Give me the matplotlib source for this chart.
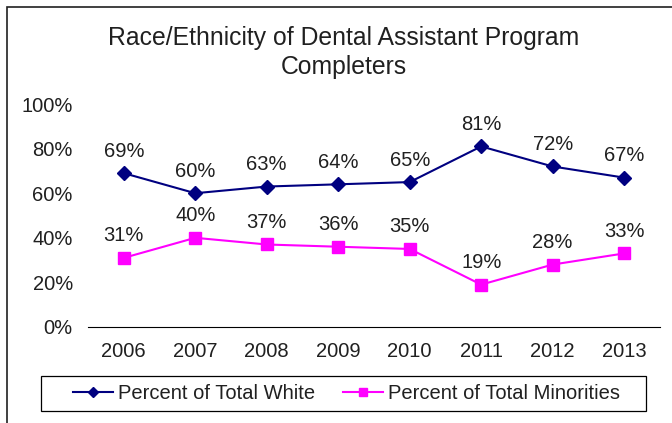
import matplotlib.pyplot as plt
from matplotlib.patches import Rectangle

plt.rcParams['font.family'] = ['Liberation Sans', 'DejaVu Sans']

years = ['2006', '2007', '2008', '2009', '2010', '2011', '2012', '2013']
white = [69, 60, 63, 64, 65, 81, 72, 67]
minorities = [31, 40, 37, 36, 35, 19, 28, 33]

fig = plt.figure(figsize=(6.72, 4.23), dpi=100)
ax = fig.add_axes([0.131, 0.227, 0.851, 0.527])

x = range(len(years))
ax.plot(x, white, color='#000080', marker='D', markersize=7.5, lw=1.5,
        label='Percent of Total White')
ax.plot(x, minorities, color='#FF00FF', marker='s', markersize=8.5, lw=1.5,
        label='Percent of Total Minorities')

for series in (white, minorities):
    for i, v in enumerate(series):
        ax.annotate(f'{v}%', (i, v), xytext=(0, 9), textcoords='offset points',
                    ha='center', va='bottom', fontsize=14.5, color='#202020')

ax.set_xlim(-0.5, 7.5)
ax.set_ylim(0, 100)
ax.set_yticks(range(0, 101, 20))
ax.set_yticklabels([f'{t}%' for t in range(0, 101, 20)], fontsize=14.5,
                   color='#202020')
ax.set_xticks(list(x))
ax.set_xticklabels(years, fontsize=14.5, color='#202020')
ax.tick_params(length=0)
ax.tick_params(axis='x', pad=11)
ax.tick_params(axis='y', pad=11)
for s in ['top', 'right', 'left']:
    ax.spines[s].set_visible(False)
ax.spines['bottom'].set_color('#000000')

fig.text(0.512, 0.876, 'Race/Ethnicity of Dental Assistant Program\nCompleters',
         ha='center', va='center', fontsize=17.8, linespacing=1.22,
         color='#202020')

leg = fig.legend(loc='center', bbox_to_anchor=(346.5 / 672, 0.070), ncol=2,
                 fontsize=14.5, frameon=False, handlelength=2.0,
                 handletextpad=0.25, columnspacing=1.35, borderpad=0.35,
                 borderaxespad=0, markerscale=0.65)
for t in leg.get_texts():
    t.set_color('#202020')

# legend box
fig.patches.append(Rectangle((41 / 672, 1 - 411 / 423), 605 / 672, 35 / 423,
                             transform=fig.transFigure, fill=False,
                             edgecolor='#000000', lw=0.9))

# outer chart frame (cut off at right and bottom)
fig.patches.append(Rectangle((7 / 672, -0.1), 1.2, 1 - 7 / 423 + 0.1,
                             transform=fig.transFigure, fill=False,
                             edgecolor='#202020', lw=1.2))

fig.savefig('out.png', dpi=100)
